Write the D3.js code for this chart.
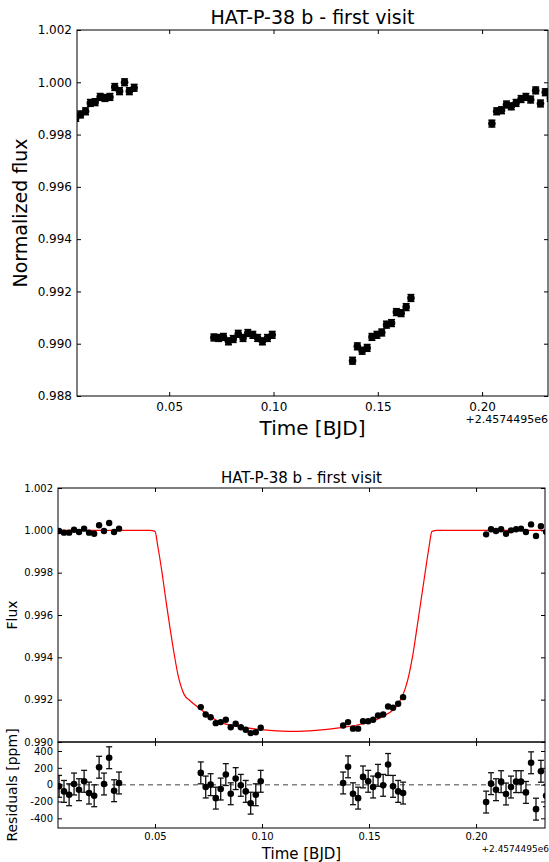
<!DOCTYPE html>
<html><head><meta charset="utf-8">
<script src="https://cdn.jsdelivr.net/npm/d3@7"></script>
<style>body{margin:0;background:#fff}svg{display:block;font-family:"DejaVu Sans",sans-serif}</style>
</head><body><svg id="c" width="549" height="862"></svg>
<script>
// ---- data (times relative to offset 2457449.5) ----
const timeV1 = [0.0052,0.0075,0.0099,0.0122,0.0145,0.0169,0.0192,0.0216,0.0239,0.0262,0.0286,0.0309,0.0332];
const timeV2 = [0.0714,0.0737,0.0760,0.0784,0.0807,0.0831,0.0854,0.0877,0.0901,0.0924,0.0947,0.0971,0.0994];
const timeV3 = [0.1379,0.1402,0.1425,0.1449,0.1472,0.1496,0.1519,0.1542,0.1566,0.1589,0.1612,0.1636,0.1659];
const timeV4 = [0.2047,0.2070,0.2093,0.2117,0.2140,0.2163,0.2187,0.2210,0.2233,0.2257,0.2280,0.2303,0.2327];
// top panel: normalized flux (raw)
const rawV1 = [0.99864,0.99877,0.99889,0.99921,0.99924,0.99944,0.99940,0.99944,0.99982,0.99966,1.00000,0.99966,0.99979];
const rawV2 = [0.99024,0.99022,0.99026,0.99009,0.99018,0.99038,0.99022,0.99041,0.99034,0.99022,0.99009,0.99022,0.99034];
const rawV3 = [0.98935,0.98990,0.98973,0.98984,0.99026,0.99034,0.99043,0.99073,0.99079,0.99121,0.99117,0.99140,0.99175];
const rawV4 = [0.99842,0.99889,0.99893,0.99915,0.99908,0.99921,0.99936,0.99944,0.99934,0.99969,0.99919,0.99962,0.99940];
const rawErr = 0.00013;
// bottom panel: detrended flux
const detV1 = [0.99997,0.99989,0.99989,1.00003,0.99992,1.00008,0.99989,0.99984,1.00024,0.99997,1.00035,0.99992,1.00008];
const detV2 = [0.99165,0.99130,0.99117,0.99089,0.99094,0.99105,0.99070,0.99086,0.99070,0.99058,0.99042,0.99046,0.99067];
const detV3 = [0.99078,0.99094,0.99063,0.99063,0.99098,0.99098,0.99105,0.99125,0.99130,0.99168,0.99162,0.99181,0.99212];
const detV4 = [0.99981,1.00005,0.99997,1.00005,0.99984,1.00000,1.00005,1.00008,0.99992,1.00028,0.99973,1.00019,0.99992];
// residuals [ppm]
const resV1 = [-20,-80,-120,8,-60,40,-100,-132,207,8,320,-72,20];
const resV2 = [140,-28,0,-160,-52,120,-108,72,-8,-80,-220,-120,40];
const resV3 = [20,212,-108,-160,92,40,-28,111,-8,240,-20,-80,-100];
const resV4 = [-207,12,-60,36,-111,-28,36,36,-92,260,-291,159,-132];
const resErr = 130;
// transit model curve
const modelT = [0.0040,0.0477,0.0500,0.0514,0.0533,0.0551,0.0570,0.0589,0.0607,0.0621,0.0636,0.0664,0.0710,0.0804,0.0930,0.1037,0.1145,0.1252,0.1360,0.1472,0.1565,0.1631,0.1659,0.1673,0.1687,0.1706,0.1724,0.1743,0.1762,0.1780,0.1794,0.1818,0.2330];
const modelF = [1.0000,1.0000,0.99995,0.9992,0.9980,0.9967,0.9954,0.9942,0.9932,0.99265,0.99225,0.99195,0.99157,0.99094,0.99067,0.99055,0.99050,0.99055,0.99067,0.99086,0.99121,0.99173,0.99225,0.99265,0.9932,0.9942,0.9954,0.9967,0.9980,0.9992,0.99995,1.0000,1.0000];
// ticks / labels
const topYTicks = [0.988,0.990,0.992,0.994,0.996,0.998,1.000,1.002];
const xTicks = [0.05,0.10,0.15,0.20];
const fluxTicks = [0.990,0.992,0.994,0.996,0.998,1.000,1.002];
const resTicks = [-400,-200,0,200,400];
const titleText = "HAT-P-38 b - first visit";
const offsetText = "+2.4574495e6";

const times = [timeV1,timeV2,timeV3,timeV4];
const raws = [rawV1,rawV2,rawV3,rawV4];
const dets = [detV1,detV2,detV3,detV4];
const ress = [resV1,resV2,resV3,resV4];
const zip = (T,V)=>T.map((t,i)=>({t,v:V[i]}));
const rawPts = times.flatMap((T,k)=>zip(T,raws[k]));
const detPts = times.flatMap((T,k)=>zip(T,dets[k]));
const resPts = times.flatMap((T,k)=>zip(T,ress[k]));
const modelPts = zip(modelT,modelF);

const svg = d3.select("#c");
const hyph = s => s.replace("\u2212","-");

function frame(g, x0,x1,y0,y1){
  g.append("rect").attr("x",x0).attr("y",y0).attr("width",x1-x0).attr("height",y1-y0)
   .attr("fill","none").attr("stroke","#000").attr("stroke-width",1);
}
function clip(id,x0,x1,y0,y1){
  svg.append("clipPath").attr("id",id).append("rect").attr("x",x0).attr("y",y0).attr("width",x1-x0).attr("height",y1-y0);
}
function styleAxis(g, fs){
  g.select(".domain").remove();
  g.selectAll(".tick line").attr("stroke","#000");
  g.selectAll("text").attr("font-size",fs).attr("fill","#000").attr("font-family","DejaVu Sans");
}

// ===== TOP PANEL =====
const T = {x0:77,x1:548,y0:30,y1:396};
const xT = d3.scaleLinear().domain([0.0058,0.2316]).range([T.x0,T.x1]);
const yT = d3.scaleLinear().domain([0.988,1.002]).range([T.y1,T.y0]);
clip("cT",T.x0,T.x1,T.y0,T.y1);
const gT = svg.append("g");
const gTd = gT.append("g").attr("clip-path","url(#cT)");
gTd.selectAll("line.eb").data(rawPts).join("line")
  .attr("x1",d=>xT(d.t)).attr("x2",d=>xT(d.t)).attr("y1",d=>yT(d.v-rawErr)).attr("y2",d=>yT(d.v+rawErr))
  .attr("stroke","#000").attr("stroke-width",1.5);
[-1,1].forEach(s=>gTd.selectAll(null).data(rawPts).join("line")
  .attr("x1",d=>xT(d.t)-3.5).attr("x2",d=>xT(d.t)+3.5).attr("y1",d=>yT(d.v+s*rawErr)).attr("y2",d=>yT(d.v+s*rawErr))
  .attr("stroke","#000").attr("stroke-width",1.5));
gTd.selectAll("circle").data(rawPts).join("circle")
  .attr("cx",d=>xT(d.t)).attr("cy",d=>yT(d.v)).attr("r",3.8).attr("fill","#000");
frame(gT,T.x0,T.x1,T.y0,T.y1);
styleAxis(gT.append("g").attr("transform",`translate(${T.x0},0)`)
  .call(d3.axisLeft(yT).tickValues(topYTicks).tickFormat(d3.format(".3f")).tickSizeInner(-4).tickSizeOuter(0).tickPadding(5)),12);
styleAxis(gT.append("g").attr("transform",`translate(${T.x1},0)`)
  .call(d3.axisRight(yT).tickValues(topYTicks).tickFormat("").tickSizeInner(-4).tickSizeOuter(0)),12);
styleAxis(gT.append("g").attr("transform",`translate(0,${T.y1})`)
  .call(d3.axisBottom(xT).tickValues(xTicks).tickFormat(d3.format(".2f")).tickSizeInner(-4).tickSizeOuter(0).tickPadding(6)),12);
styleAxis(gT.append("g").attr("transform",`translate(0,${T.y0})`)
  .call(d3.axisTop(xT).tickValues(xTicks).tickFormat("").tickSizeInner(-4).tickSizeOuter(0)),12);
gT.append("text").attr("x",(T.x0+T.x1)/2).attr("y",24).attr("text-anchor","middle").attr("font-size",19).text(titleText);
gT.append("text").attr("x",(T.x0+T.x1)/2).attr("y",435).attr("text-anchor","middle").attr("font-size",20).text("Time [BJD]");
gT.append("text").attr("x",T.x1).attr("y",423).attr("text-anchor","end").attr("font-size",11).text(offsetText);
gT.append("text").attr("transform",`translate(27,${(T.y0+T.y1)/2}) rotate(-90)`).attr("text-anchor","middle").attr("font-size",19).text("Normalized flux");

// ===== BOTTOM PANELS =====
const B = {x0:58,x1:545,y0:488,y1:742,y2:828};
const xB = d3.scaleLinear().domain([0.0047,0.2322]).range([B.x0,B.x1]);
const yF = d3.scaleLinear().domain([0.990,1.002]).range([B.y1,B.y0]);
const yR = d3.scaleLinear().domain([-515,507]).range([B.y2,B.y1]);
clip("cF",B.x0,B.x1,B.y0,B.y1);
clip("cR",B.x0,B.x1,B.y1,B.y2);
const gB = svg.append("g");
const gFd = gB.append("g").attr("clip-path","url(#cF)");
gFd.append("path").datum(modelPts)
  .attr("d",d3.line().x(d=>xB(d.t)).y(d=>yF(d.v)).curve(d3.curveMonotoneX))
  .attr("fill","none").attr("stroke","#ff0000").attr("stroke-width",1.2);
gFd.selectAll("circle").data(detPts).join("circle")
  .attr("cx",d=>xB(d.t)).attr("cy",d=>yF(d.v)).attr("r",3.2).attr("fill","#000");

const gRd = gB.append("g").attr("clip-path","url(#cR)");
gRd.append("line").attr("x1",B.x0).attr("x2",B.x1).attr("y1",yR(0)).attr("y2",yR(0))
  .attr("stroke","#808080").attr("stroke-width",1.5).attr("stroke-dasharray","5,4");
gRd.selectAll("line.eb").data(resPts).join("line")
  .attr("x1",d=>xB(d.t)).attr("x2",d=>xB(d.t)).attr("y1",d=>yR(d.v-resErr)).attr("y2",d=>yR(d.v+resErr))
  .attr("stroke","#111").attr("stroke-width",1.3);
[-1,1].forEach(s=>gRd.selectAll(null).data(resPts).join("line")
  .attr("x1",d=>xB(d.t)-3).attr("x2",d=>xB(d.t)+3).attr("y1",d=>yR(d.v+s*resErr)).attr("y2",d=>yR(d.v+s*resErr))
  .attr("stroke","#111").attr("stroke-width",1.3));
gRd.selectAll("circle").data(resPts).join("circle")
  .attr("cx",d=>xB(d.t)).attr("cy",d=>yR(d.v)).attr("r",3.3).attr("fill","#000");

frame(gB,B.x0,B.x1,B.y0,B.y1);
frame(gB,B.x0,B.x1,B.y1,B.y2);
// flux axes
styleAxis(gB.append("g").attr("transform",`translate(${B.x0},0)`)
  .call(d3.axisLeft(yF).tickValues(fluxTicks).tickFormat(d3.format(".3f")).tickSizeInner(-4).tickSizeOuter(0).tickPadding(5)),10);
styleAxis(gB.append("g").attr("transform",`translate(${B.x1},0)`)
  .call(d3.axisRight(yF).tickValues(fluxTicks).tickFormat("").tickSizeInner(-4).tickSizeOuter(0)),10);
styleAxis(gB.append("g").attr("transform",`translate(0,${B.y0})`)
  .call(d3.axisTop(xB).tickValues(xTicks).tickFormat("").tickSizeInner(-4).tickSizeOuter(0)),10);
styleAxis(gB.append("g").attr("transform",`translate(0,${B.y1})`)
  .call(d3.axisBottom(xB).tickValues(xTicks).tickFormat("").tickSizeInner(-4).tickSizeOuter(0)),10);
// residual axes
styleAxis(gB.append("g").attr("transform",`translate(${B.x0},0)`)
  .call(d3.axisLeft(yR).tickValues(resTicks).tickFormat(d=>hyph(d3.format("d")(d))).tickSizeInner(-4).tickSizeOuter(0).tickPadding(5)),10);
styleAxis(gB.append("g").attr("transform",`translate(${B.x1},0)`)
  .call(d3.axisRight(yR).tickValues(resTicks).tickFormat("").tickSizeInner(-4).tickSizeOuter(0)),10);
styleAxis(gB.append("g").attr("transform",`translate(0,${B.y1})`)
  .call(d3.axisTop(xB).tickValues(xTicks).tickFormat("").tickSizeInner(-4).tickSizeOuter(0)),10);
styleAxis(gB.append("g").attr("transform",`translate(0,${B.y2})`)
  .call(d3.axisBottom(xB).tickValues(xTicks).tickFormat(d3.format(".2f")).tickSizeInner(-4).tickSizeOuter(0).tickPadding(5)),10);

gB.append("text").attr("x",(B.x0+B.x1)/2).attr("y",483).attr("text-anchor","middle").attr("font-size",15).text(titleText);
gB.append("text").attr("x",(B.x0+B.x1)/2).attr("y",859).attr("text-anchor","middle").attr("font-size",15).text("Time [BJD]");
gB.append("text").attr("x",549).attr("y",852).attr("text-anchor","end").attr("font-size",9).text(offsetText);
gB.append("text").attr("transform",`translate(17,${(B.y0+B.y1)/2}) rotate(-90)`).attr("text-anchor","middle").attr("font-size",14).text("Flux");
gB.append("text").attr("transform",`translate(17,${(B.y1+B.y2)/2}) rotate(-90)`).attr("text-anchor","middle").attr("font-size",14).text("Residuals [ppm]");
</script></body></html>
